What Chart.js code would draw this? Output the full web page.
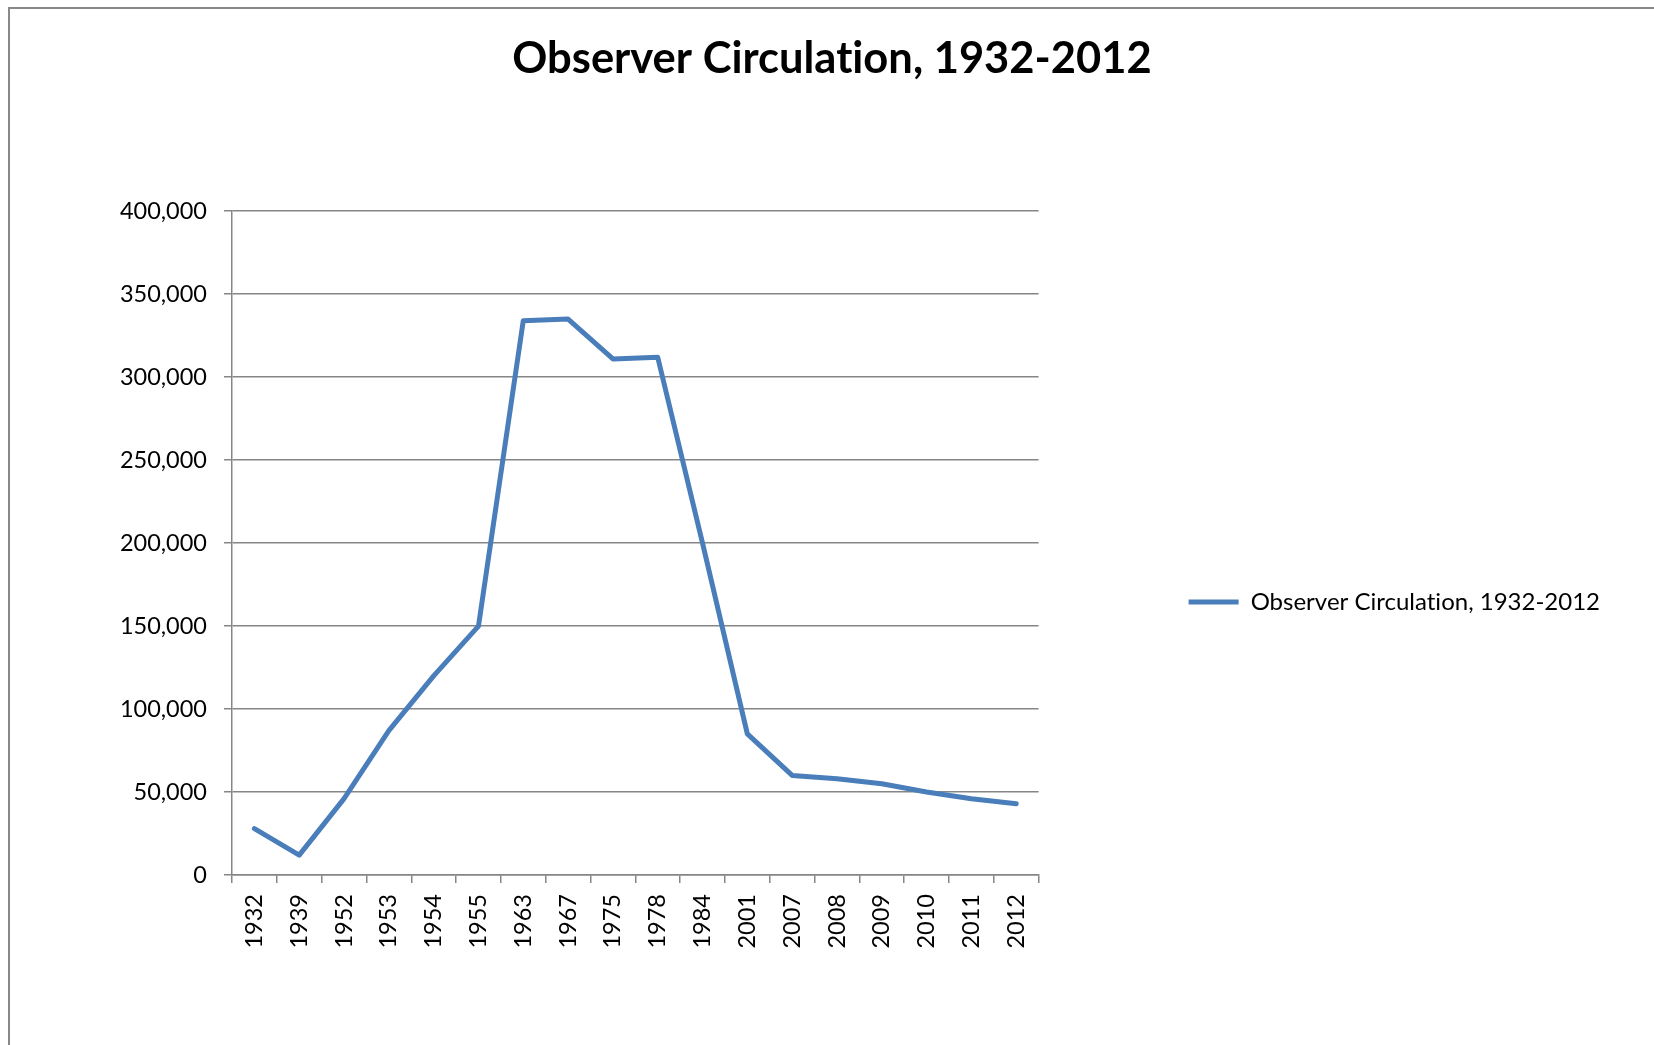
<!DOCTYPE html>
<html>
<head>
<meta charset="utf-8">
<title>Observer Circulation, 1932-2012</title>
<script src="https://cdn.jsdelivr.net/npm/chart.js@4/dist/chart.umd.min.js"></script>
<style>
    html, body { margin: 0; padding: 0; background: #fff; overflow: hidden; }
    #frame {
        position: absolute;
        left: 8px;
        top: 7px;
        width: 1646px;
        height: 1186px;
        border-top: 2px solid #898989;
        border-left: 2px solid #898989;
    }
</style>
</head>
<body>
<div id="frame"><canvas id="chart"></canvas></div>
<script>
const years = ['1932', '1939', '1952', '1953', '1954', '1955', '1963', '1967', '1975',
    '1978', '1984', '2001', '2007', '2008', '2009', '2010', '2011', '2012'];
const circulation = [28000, 12000, 46000, 87000, 120000, 150000, 334000, 335000, 311000,
    312000, 200000, 85000, 60000, 58000, 55000, 50000, 46000, 43000];
const yTicks = [0, 50000, 100000, 150000, 200000, 250000, 300000, 350000, 400000];
const seriesName = 'Observer Circulation, 1932-2012';

Chart.defaults.font.family = 'Lato, "Open Sans", sans-serif';
Chart.defaults.color = '#000';

const ctx = document.getElementById('chart').getContext('2d');
const gridColor = '#868686';

// resizing the canvas resets the context, so set this again before layout and draw
// (turns off the "ti" ligature, the original font has none)
const noLigatures = {
    id: 'noLigatures',
    beforeUpdate(chart) { chart.ctx.textRendering = 'optimizeSpeed'; },
    beforeDraw(chart) { chart.ctx.textRendering = 'optimizeSpeed'; }
};

const chart = new Chart(ctx, {
    type: 'line',
    data: {
        labels: years,
        datasets: [{
            label: seriesName,
            data: circulation,
            borderColor: '#4a7ebb',
            backgroundColor: '#4a7ebb',
            borderWidth: 5,
            borderCapStyle: 'round',
            borderJoinStyle: 'round',
            pointRadius: 0,
            pointHoverRadius: 0,
            tension: 0,
            fill: false
        }]
    },
    options: {
        responsive: true,
        maintainAspectRatio: false,
        animation: false,
        events: [],
        layout: { padding: { left: 44, right: 46, top: 0, bottom: 0 } },
        plugins: {
            title: {
                display: true,
                text: seriesName,
                font: { size: 43.5, weight: 'bold' },
                color: '#000',
                padding: { top: 24, bottom: 126 }
            },
            legend: {
                display: true,
                position: 'right',
                maxWidth: 700,
                labels: {
                    usePointStyle: true,
                    pointStyle: 'line',
                    pointStyleWidth: 50,
                    padding: 150,
                    font: { size: 24 },
                    color: '#000'
                }
            },
            tooltip: { enabled: false }
        },
        scales: {
            x: {
                type: 'category',
                offset: true,
                grid: {
                    offset: true,
                    drawOnChartArea: false,
                    drawTicks: true,
                    tickLength: 8,
                    color: gridColor,
                    lineWidth: 1.5
                },
                border: { color: gridColor, width: 1.5 },
                ticks: {
                    autoSkip: false,
                    minRotation: 90,
                    maxRotation: 90,
                    padding: 11,
                    font: { size: 23.5 }
                },
                afterFit: (scale) => { scale.height = 320; }
            },
            y: {
                min: 0,
                max: 400000,
                grid: {
                    color: gridColor,
                    lineWidth: 1.5,
                    drawTicks: true,
                    tickLength: 8
                },
                border: { color: gridColor, width: 1.5 },
                afterBuildTicks: (scale) => {
                    scale.ticks = yTicks.map(v => ({ value: v }));
                },
                ticks: {
                    padding: 17,
                    font: { size: 23.5 },
                    callback: (v) => v.toLocaleString('en-US')
                },
                afterFit: (scale) => { scale.width = 178; }
            }
        }
    },
    plugins: [noLigatures]
});
</script>
</body>
</html>
